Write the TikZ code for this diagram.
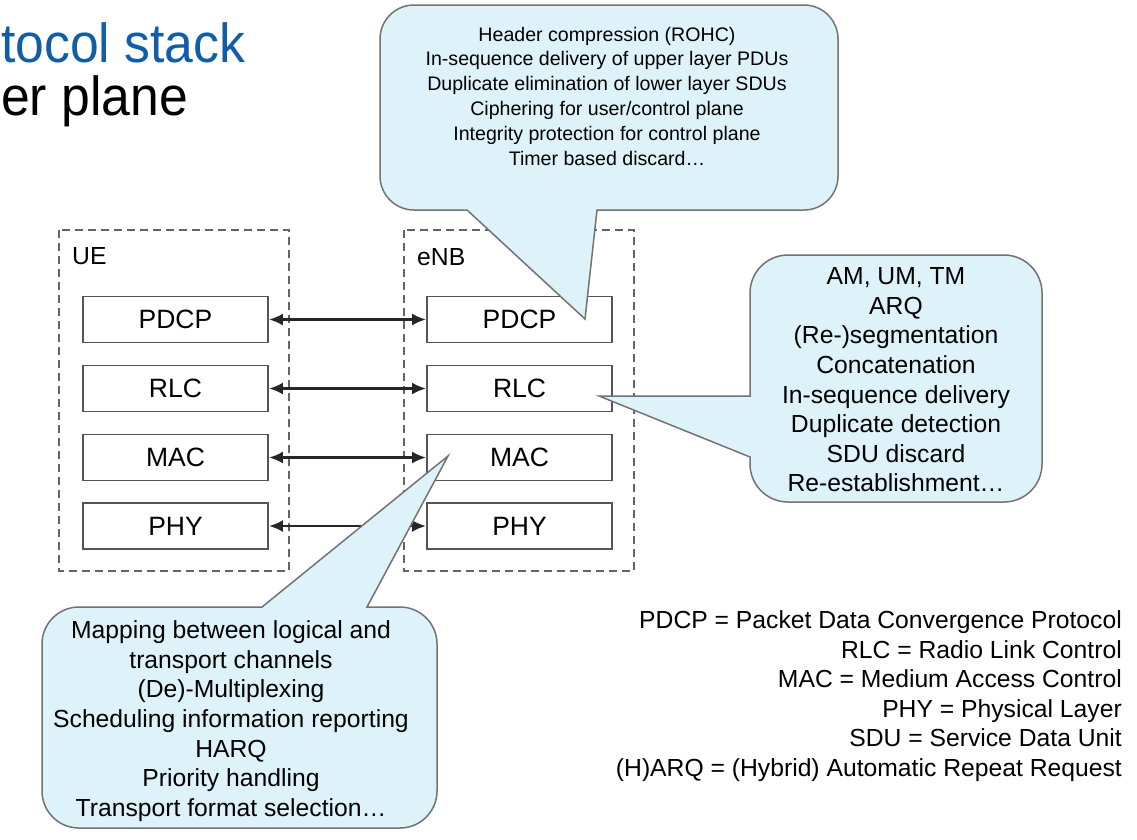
\documentclass[tikz,border=0pt]{standalone}
\usepackage{fontspec}
\setmainfont{Liberation Sans}
\usetikzlibrary{arrows.meta}
\definecolor{titleblue}{RGB}{16,94,170}
\definecolor{callfill}{RGB}{222,242,250}
\definecolor{callline}{RGB}{115,115,115}
\definecolor{boxline}{RGB}{85,85,85}
\definecolor{dashline}{RGB}{100,100,100}
\begin{document}
\begin{tikzpicture}[x=1pt,y=-1pt,
  txt/.style={font=\fontsize{24.7}{29.6}\selectfont, inner sep=0pt},
  smalltxt/.style={font=\fontsize{19.6}{24.8}\selectfont, inner sep=0pt},
  heading/.style={font=\fontsize{55}{55}\selectfont, inner sep=0pt, anchor=base west},
  layer/.style={draw=boxline, line width=1.8pt, fill=white, minimum width=185pt,
    minimum height=46pt, inner sep=0pt, font=\fontsize{26.5}{30}\selectfont},
  group/.style={draw=dashline, line width=1.6pt, dash pattern=on 8pt off 5pt},
  link/.style={line width=2.6pt, draw=black!85,
    {Latex[length=14pt,width=12pt]}-{Latex[length=14pt,width=12pt]}},
  callout/.style={fill=callfill, draw=callline, line width=1.5pt, line join=miter},
]
% canvas
\fill[white] (0,0) rectangle (1137,839);
\useasboundingbox (0,0) rectangle (1137,839);

% slide heading
\node[heading, text=titleblue] (title) at (1,62) {\scalebox{0.94}[1]{tocol stack}};
\node[heading, text=black] (subtitle) at (1,115) {\scalebox{0.94}[1]{er plane}};

% UE and eNB groups
\draw[group] (59,230) rectangle (289,571);
\draw[group] (404,230) rectangle (634,571);
\node[txt, anchor=base west] (uelabel) at (72,264) {UE};
\node[txt, anchor=base west] (enblabel) at (417,265) {eNB};

% protocol layers
\node[layer] (uepdcp) at (175.5,319.5) {PDCP};
\node[layer] (uerlc)  at (175.5,388.5) {RLC};
\node[layer] (uemac)  at (175.5,457.5) {MAC};
\node[layer] (uephy)  at (175.5,526)   {PHY};
\node[layer] (enbpdcp) at (519.5,319.5) {PDCP};
\node[layer] (enbrlc)  at (519.5,388.5) {RLC};
\node[layer] (enbmac)  at (519.5,457.5) {MAC};
\node[layer] (enbphy)  at (519.5,526)   {PHY};

% peer links
\draw[link] (uepdcp.east) -- (enbpdcp.west);
\draw[link] (uerlc.east) -- (enbrlc.west);
\draw[link] (uemac.east) -- (enbmac.west);
\draw[link] (uephy.east) -- (enbphy.west);

% callout tips
\coordinate (pdcptip) at (585,319);
\coordinate (rlctip) at (599,396);
\coordinate (mactip) at (448,456);

% PDCP callout
\draw[callout] (380,39) arc[start angle=180,end angle=270,radius=34]
  -- (804,5) arc[start angle=270,end angle=360,radius=34]
  -- (838,176) arc[start angle=0,end angle=90,radius=34]
  -- (597,210) -- (pdcptip) -- (467,210)
  -- (414,210) arc[start angle=90,end angle=180,radius=34] -- cycle;
\node[smalltxt, align=center] (pdcpnotes) at (607,96)
  {Header compression (ROHC)\\In-sequence delivery of upper layer PDUs\\
   Duplicate elimination of lower layer SDUs\\Ciphering for user/control plane\\
   Integrity protection for control plane\\Timer based discard\ldots};

% RLC callout
\draw[callout] (750,293) arc[start angle=180,end angle=270,radius=38]
  -- (1004,255) arc[start angle=270,end angle=360,radius=38]
  -- (1042,464) arc[start angle=0,end angle=90,radius=38]
  -- (788,502) arc[start angle=90,end angle=180,radius=38]
  -- (750,457) -- (rlctip) -- (750,396) -- cycle;
\node[txt, align=center] (rlcnotes) at (896,380)
  {AM, UM, TM\\ARQ\\(Re-)segmentation\\Concatenation\\In-sequence delivery\\
   Duplicate detection\\SDU discard\\Re-establishment\ldots};

% MAC callout
\draw[callout] (42,644) arc[start angle=180,end angle=270,radius=37]
  -- (262,607) -- (mactip) -- (367,607)
  -- (400,607) arc[start angle=270,end angle=360,radius=37]
  -- (437,791) arc[start angle=0,end angle=90,radius=37]
  -- (79,828) arc[start angle=90,end angle=180,radius=37] -- cycle;
\node[txt, align=center] (macnotes) at (231,721)
  {Mapping between logical and\\transport channels\\(De)-Multiplexing\\
   Scheduling information reporting\\HARQ\\Priority handling\\
   Transport format selection\ldots};

% abbreviations
\node[txt, align=right, anchor=east] (legend) at (1122,696)
  {PDCP = Packet Data Convergence Protocol\\RLC = Radio Link Control\\
   MAC = Medium Access Control\\PHY = Physical Layer\\SDU = Service Data Unit\\
   (H)ARQ = (Hybrid) Automatic Repeat Request};
\end{tikzpicture}
\end{document}
